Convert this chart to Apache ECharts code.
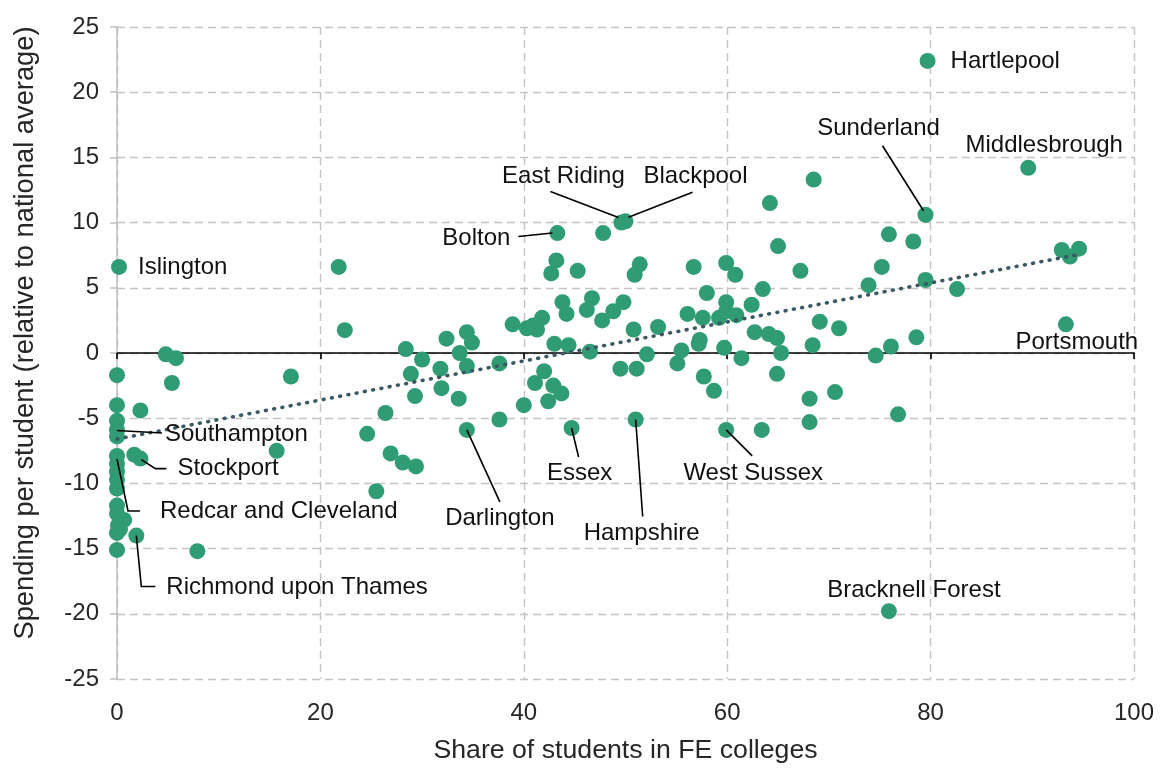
<!DOCTYPE html>
<html><head><meta charset="utf-8">
<script src="https://cdn.jsdelivr.net/npm/echarts@6/dist/echarts.min.js"></script>
<style>html,body{margin:0;padding:0;background:#fff}#chart{width:1160px;height:769px}</style>
</head><body><div id="chart"></div>
<script>
// Share of students in FE colleges (x)
const shareFE = [
  0.2, 0, 0, 0, 0, 0, 0, 0, 0, 0, 0, 0, 0, 0.1, 0, 0, 0.7, 0.3,
  4.8, 5.8, 5.4, 17.1, 2.3, 15.7, 1.7, 2.3, 1.9, 7.9,
  21.8, 22.4, 28.4, 30.0, 32.4, 34.4, 34.9, 33.7, 34.4, 31.8, 28.9, 29.3, 31.9, 33.6, 37.6, 38.9, 40.3, 40.9, 41.3, 41.8,
  43.3, 43.2, 42.7, 43.8, 43.0, 42.0, 41.1, 42.9, 42.4, 40.0, 37.6, 34.4, 26.4, 24.6, 26.9, 28.1, 29.4, 25.5, 43.7,
  49.6, 50.0, 47.8, 64.2, 65.0, 45.3, 51.4, 50.9, 56.7, 59.9, 60.8, 58.0, 63.5, 44.2, 46.7, 46.2, 47.7, 48.8, 49.8, 50.8,
  53.2, 56.1, 57.6, 59.2, 59.9, 59.9, 60.9, 62.4, 62.7, 64.1, 64.9, 44.4, 46.5, 52.1, 55.5, 55.1, 57.3, 57.2, 59.7, 61.4,
  65.3, 64.9, 49.5, 51.1, 57.7, 58.7, 44.7, 51.0, 59.9, 63.4,
  89.6, 68.5, 79.5, 75.9, 78.3, 92.9, 93.7, 94.6, 67.2, 75.2, 73.9, 79.5, 82.6, 69.1, 71.0, 68.4, 78.6, 76.1, 74.6, 93.3,
  70.6, 68.1, 76.8, 68.1, 79.7, 75.9
];
// Spending per student relative to national average (y)
const spending = [
  6.6, -1.7, -4.0, -5.2, -5.9, -6.4, -7.9, -8.5, -9.1, -9.7, -10.4, -11.7, -12.3, -13.2, -13.8, -15.1, -12.8, -13.5,
  -0.1, -0.4, -2.3, -1.8, -4.4, -7.5, -7.8, -8.1, -14.0, -15.2,
  6.6, 1.75, 0.3, -0.5, 1.1, 1.6, 0.8, 0.0, -1.0, -1.2, -1.6, -3.3, -2.7, -3.5, -0.8, 2.2, 1.9, 2.1, 1.8, 2.7,
  9.2, 7.1, 6.1, 3.9, 0.7, -1.4, -2.3, -2.5, -3.7, -4.0, -5.1, -5.9, -4.6, -6.2, -7.7, -8.4, -8.7, -10.6, -3.1,
  10.0, 10.1, 9.2, 11.5, 8.2, 6.3, 6.8, 6.0, 6.6, 6.9, 6.0, 4.6, 4.9, 3.0, 4.2, 3.3, 2.5, 3.2, 3.9, 1.8,
  2.0, 3.0, 2.7, 2.7, 3.9, 3.2, 2.9, 3.7, 1.6, 1.45, 1.15, 0.6, 0.1, -0.1, 0.2, -0.8, 1.0, 0.7, 0.4, -0.4,
  0.0, -1.6, -1.2, -1.2, -1.8, -2.9, -5.75, -5.1, -5.9, -5.9,
  14.2, 13.3, 10.6, 9.1, 8.55, 7.9, 7.4, 8.0, 6.3, 6.6, 5.2, 5.6, 4.9, 2.4, 1.9, 0.6, 1.2, 0.5, -0.2, 2.2,
  -3.0, -3.5, -4.7, -5.3, 22.4, -19.8
];
// Labelled local authorities: index into the arrays above
const labelIndex = [0, 4, 6, 25, 26, 48, 59, 67, 68, 113, 114, 115, 117, 119, 136, 141, 142];
const labelNames = ['Islington', 'Southampton', 'Redcar and Cleveland', 'Stockport', 'Richmond upon Thames',
  'Bolton', 'Darlington', 'East Riding', 'Blackpool', 'Essex', 'Hampshire', 'West Sussex',
  'Middlesbrough', 'Sunderland', 'Portsmouth', 'Hartlepool', 'Bracknell Forest'];
// Linear trend line end points
const trendX = [0, 94.2];
const trendY = [-6.6, 7.5];
// Axis titles
const xTitle = 'Share of students in FE colleges';
const yTitle = 'Spending per student (relative to national average)';

// Label placement: text anchor and leader line as pixel offsets from the point centre (layout only)
const labelPlace = {
  'Islington': {tx: 19, ty: 0, align: 'left'},
  'Southampton': {tx: 48, ty: 4, align: 'left', line: [[0, 0.5], [45, 3]]},
  'Redcar and Cleveland': {tx: 43, ty: 55.5, align: 'left', line: [[0, 3], [11, 55], [23, 55]]},
  'Stockport': {tx: 37, ty: 10, align: 'left', line: [[1, 1], [15, 10], [26, 10]]},
  'Richmond upon Thames': {tx: 30, ty: 52, align: 'left', line: [[0, 0], [5, 51], [19, 51]]},
  'Bolton': {tx: -47, ty: 5, align: 'right', line: [[-39, 3.5], [-5, 0]]},
  'Darlington': {tx: 33, ty: 88, align: 'center', line: [[0, 0], [33, 72]]},
  'East Riding': {tx: -58, ty: -46, align: 'center', line: [[-71, -31], [-3, -5]]},
  'Blackpool': {tx: 70, ty: -45, align: 'center', line: [[67, -29], [3, -4]]},
  'Essex': {tx: 8, ty: 45, align: 'center', line: [[0, 0], [7, 29]]},
  'Hampshire': {tx: 6, ty: 114, align: 'center', line: [[0, 0], [7, 97]]},
  'West Sussex': {tx: 27, ty: 43, align: 'center', line: [[0, 0], [26, 26]]},
  'Middlesbrough': {tx: 16, ty: -22, align: 'center'},
  'Sunderland': {tx: -47, ty: -86, align: 'center', line: [[-43, -69], [-2, -4]]},
  'Portsmouth': {tx: 11, ty: 18, align: 'center'},
  'Hartlepool': {tx: 23, ty: 0, align: 'left'},
  'Bracknell Forest': {tx: 25, ty: -21, align: 'center'}
};

const FONT = "'Liberation Sans', Arial, sans-serif";
const points = shareFE.map((x, i) => [x, spending[i]]);
const labelled = labelIndex.map((idx, k) => [shareFE[idx], spending[idx], k]);

const chart = echarts.init(document.getElementById('chart'), null, {renderer: 'canvas'});
chart.setOption({
  animation: false,
  backgroundColor: '#ffffff',
  grid: {left: 117, right: 26, top: 27, bottom: 87},
  xAxis: [{
    type: 'value', min: 0, max: 100, interval: 20, position: 'bottom',
    axisLine: {show: false, onZero: false},
    axisTick: {show: false},
    axisLabel: {margin: 22, fontSize: 24, color: '#262626', fontFamily: FONT},
    splitLine: {show: true, lineStyle: {color: '#c4c4c4', width: 1.4, type: [8, 5]}},
    name: xTitle, nameLocation: 'middle', nameGap: 58,
    nameTextStyle: {fontSize: 26.7, color: '#262626', fontFamily: FONT}
  }, {
    type: 'value', min: 0, max: 100, interval: 20, position: 'bottom',
    axisLine: {show: true, onZero: true, lineStyle: {color: '#000', width: 1.6}},
    axisTick: {show: true, length: 6, lineStyle: {color: '#000', width: 1.6}},
    axisLabel: {show: false},
    splitLine: {show: false}
  }],
  yAxis: {
    type: 'value', min: -25, max: 25, interval: 5,
    axisLine: {show: true, onZero: false, lineStyle: {color: '#bfbfbf', width: 1.5}},
    axisTick: {show: true, length: 7, lineStyle: {color: '#bfbfbf', width: 1.5}},
    axisLabel: {margin: 18, fontSize: 24, color: '#262626', fontFamily: FONT},
    splitLine: {show: true, lineStyle: {color: '#c4c4c4', width: 1.4, type: [8, 5]}},
    name: yTitle, nameLocation: 'middle', nameGap: 78, nameRotate: 90,
    nameTextStyle: {fontSize: 27.3, color: '#262626', fontFamily: FONT, padding: [0, 0, 0, 40]}
  },
  series: [{
    type: 'scatter',
    xAxisIndex: 0, yAxisIndex: 0,
    symbol: 'circle', symbolSize: 16,
    itemStyle: {color: '#2f9c74', opacity: 1},
    data: points,
    z: 3
  }, {
    type: 'line',
    xAxisIndex: 0, yAxisIndex: 0,
    data: trendX.map((x, i) => [x, trendY[i]]),
    showSymbol: false, symbol: 'none',
    lineStyle: {color: '#3a5862', width: 3.6, type: [0.8, 7.6], cap: 'round'},
    silent: true,
    z: 4
  }, {
    type: 'custom',
    xAxisIndex: 0, yAxisIndex: 0,
    silent: true,
    clip: false,
    z: 5,
    encode: {x: 0, y: 1},
    data: labelled,
    renderItem: function (params, api) {
      const c = api.coord([api.value(0), api.value(1)]);
      const name = labelNames[api.value(2)];
      const s = labelPlace[name];
      const children = [];
      if (s.line) {
        children.push({
          type: 'polyline',
          shape: {points: s.line.map(p => [c[0] + p[0], c[1] + p[1]])},
          style: {stroke: '#000', lineWidth: 1.6, fill: null}
        });
      }
      children.push({
        type: 'text',
        style: {
          text: name, x: c[0] + s.tx, y: c[1] + s.ty,
          align: s.align, verticalAlign: 'middle',
          fill: '#111', fontSize: 24, fontFamily: FONT
        }
      });
      return {type: 'group', children: children};
    }
  }]
});
</script>
</body></html>
